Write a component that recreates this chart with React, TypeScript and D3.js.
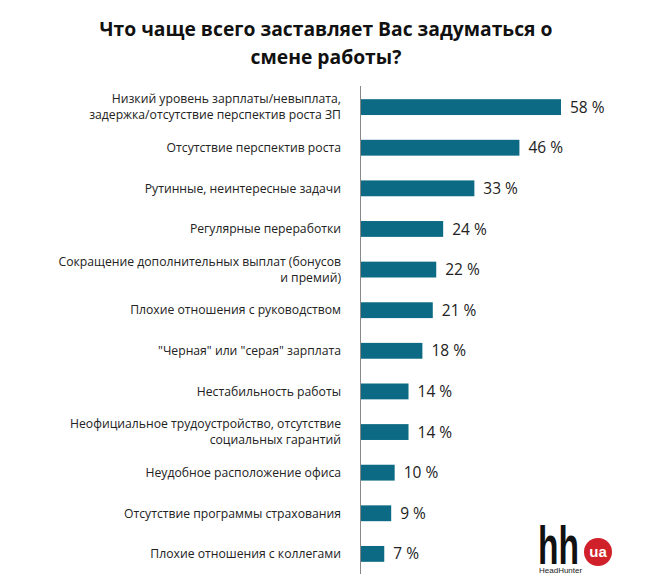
import { useMemo } from 'react';
import * as d3 from 'd3';

const categories = [
  ['Низкий уровень зарплаты/невыплата,', 'задержка/отсутствие перспектив роста ЗП'],
  ['Отсутствие перспектив роста'],
  ['Рутинные, неинтересные  задачи'],
  ['Регулярные переработки'],
  ['Сокращение дополнительных выплат (бонусов', 'и премий)'],
  ['Плохие отношения с руководством'],
  ['"Черная" или "серая" зарплата'],
  ['Нестабильность работы'],
  ['Неофициальное трудоустройство, отсутствие', 'социальных гарантий'],
  ['Неудобное расположение офиса'],
  ['Отсутствие программы страхования'],
  ['Плохие отношения с коллегами'],
];
const values = [58, 46, 33, 24, 22, 21, 18, 14, 14, 10, 9, 7];
const titleLines = ['Что чаще всего заставляет Вас задуматься о', 'смене работы?'];

const BAR_COLOR = '#0d6a84';
const FONT = "'Open Sans', 'Noto Sans', sans-serif";
const LOGO_FONT = "'Liberation Sans', Arial, sans-serif";

export default function App() {
  const width = 665;
  const height = 586;
  const axisX = 360;

  const keys = categories.map((_, i) => String(i));

  const yScale = useMemo(
    () => d3.scaleBand().domain(keys).range([87, 574]).paddingInner(0.61).paddingOuter(0.3),
    []
  );
  const xScale = d3.scaleLinear().domain([0, 58]).range([axisX, 561]);

  return (
    <svg width={width} height={height} style={{ position: 'absolute', left: 0, top: 0, background: '#fff' }}>
      <rect width={width} height={height} fill="#fff" />
      {/* title */}
      {titleLines.map((t, i) => (
        <text
          key={i}
          x={326}
          y={36 + i * 28}
          textAnchor="middle"
          fontFamily={FONT}
          fontWeight="bold"
          fontSize={19.3}
          fill="#111"
        >
          {t}
        </text>
      ))}

      {/* bars */}
      {values.map((v, i) => {
        const y = yScale(String(i))!;
        const bh = yScale.bandwidth();
        const cy = y + bh / 2;
        const lines = categories[i];
        return (
          <g key={i}>
            <rect x={xScale(0)} y={y} width={xScale(v) - xScale(0)} height={bh} fill={BAR_COLOR} />
            <text
              x={xScale(v) + 9}
              y={cy}
              dy="0.36em"
              fontFamily={FONT}
              fontSize={15.5}
              fill="#222"
            >
              {v} %
            </text>
            {lines.map((l, j) => (
              <text
                key={j}
                x={341}
                y={cy + (j - (lines.length - 1) / 2) * 16}
                dy="0.35em"
                textAnchor="end"
                fontFamily={FONT}
                fontSize={12.2}
                fill="#222"
              >
                {l}
              </text>
            ))}
          </g>
        );
      })}

      {/* axis line */}
      <line x1={axisX + 0.5} x2={axisX + 0.5} y1={86} y2={574} stroke="#888" strokeWidth={1} />

      {/* logo */}
      <g>
        <text
          x={538}
          y={564}
          fontFamily={LOGO_FONT}
          fontWeight="bold"
          fontSize={53}
          fill="#111"
          textLength={41}
          lengthAdjust="spacingAndGlyphs"
        >
          hh
        </text>
        <circle cx={598} cy={552} r={14} fill="#d0202a" />
        <text x={598} y={557} textAnchor="middle" fontFamily={LOGO_FONT} fontWeight="bold" fontSize={15} fill="#fff">
          ua
        </text>
        <text x={539} y={573} fontFamily={LOGO_FONT} fontSize={8} fill="#222">
          HeadHunter
        </text>
      </g>
    </svg>
  );
}
